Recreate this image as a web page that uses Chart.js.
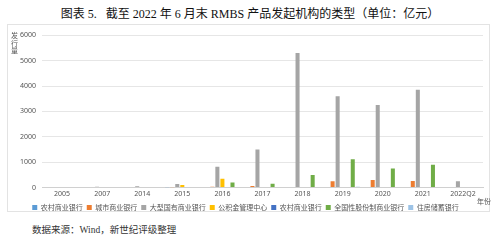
<!DOCTYPE html>
<html><head><meta charset="utf-8">
<script src="https://cdn.jsdelivr.net/npm/chart.js@4"></script>
<style>
html,body{margin:0;padding:0;background:#fff;width:500px;height:243px;overflow:hidden;font-family:"Liberation Serif","Noto Sans CJK SC",serif;}
#title{position:absolute;left:0;top:4px;width:500px;text-align:center;font-size:12px;color:#111;font-family:"Liberation Serif","Noto Sans CJK SC",serif;}
#box{position:absolute;left:7px;top:24px;width:483px;height:188px;border:1px solid #e3e3e3;box-sizing:border-box;}
#wrap{position:absolute;left:0;top:0;width:481px;height:196px;}
#ytitle{position:absolute;left:3px;top:7px;width:9px;font-size:7px;line-height:7.5px;color:#555;font-family:"Noto Sans CJK SC",sans-serif;}
#xtitle{position:absolute;left:469px;top:171px;white-space:nowrap;font-size:7px;color:#555;font-family:"Noto Sans CJK SC",sans-serif;}
#src{position:absolute;left:32px;top:222px;font-size:9.5px;color:#333;font-family:"Liberation Serif","Noto Sans CJK SC",serif;}
</style></head>
<body>
<div id="title">图表 5.&nbsp;&nbsp; 截至 2022 年 6 月末 RMBS 产品发起机构的类型（单位：亿元）</div>
<div id="box">
  <div id="wrap"><canvas id="c"></canvas></div>
  <div id="ytitle">发<br>行<br>量</div>
  <div id="xtitle">年份</div>
</div>
<div id="src">数据来源：Wind，新世纪评级整理</div>
<script>
const categories = ["2005","2007","2014","2015","2016","2017","2018","2019","2020","2021","2022Q2"];
const seriesNames = ["农村商业银行","城市商业银行","大型国有商业银行","公积金管理中心","农村商业银行","全国性股份制商业银行","住房储蓄银行"];
const ruralBanks =   [0,0,0,15,0,0,0,0,20,0,0];
const cityBanks =    [0,0,0,10,30,60,0,250,300,260,0];
const stateBanks =   [20,30,50,140,820,1500,5300,3600,3250,3850,250];
const housingFund =  [0,0,0,100,350,0,0,0,0,0,0];
const ruralBanks2 =  [0,0,0,20,20,20,0,0,0,20,0];
const jointStock =   [0,0,0,20,200,150,500,1120,750,900,0];
const savingsBank =  [0,0,0,0,0,0,0,30,0,0,0];
const yTicks = [0,1000,2000,3000,4000,5000,6000];
const colors = ["#5B9BD5","#ED7D31","#A5A5A5","#FFC000","#4472C4","#70AD47","#9DC3E6"];
const values = [ruralBanks,cityBanks,stateBanks,housingFund,ruralBanks2,jointStock,savingsBank];

new Chart(document.getElementById('c'), {
  type: 'bar',
  data: {
    labels: categories,
    datasets: values.map((v,i)=>({label: seriesNames[i], data: v, backgroundColor: colors[i], categoryPercentage: 0.88, barPercentage: 0.8}))
  },
  options: {
    responsive: true, maintainAspectRatio: false, animation: false,
    layout: {padding: {left: 0, right: 6, top: 9, bottom: 0}},
    plugins: {
      legend: {position: 'bottom', align: 'center',
        labels: {boxWidth: 5, boxHeight: 5, padding: 4, color: '#555', font: {size: 7, family: '"Noto Sans CJK SC", sans-serif'}}},
      tooltip: {enabled: false}
    },
    scales: {
      x: {grid: {display: false, drawTicks: false}, border: {color: '#d0d0d0'},
        ticks: {color: '#555', padding: 2, font: {size: 7, family: '"Noto Sans", sans-serif'}, maxRotation: 0, autoSkip: false}},
      y: {min: 0, max: 6000, afterBuildTicks: s => { s.ticks = yTicks.map(v=>({value:v})); },
        afterFit: s => { s.width = 34; },
        grid: {color: '#e6e6e6', drawTicks: false}, border: {display: false},
        ticks: {color: '#555', padding: 6, callback: v => String(v), font: {size: 7, family: '"Noto Sans", sans-serif'}}}
    }
  }
});
</script>
</body></html>
